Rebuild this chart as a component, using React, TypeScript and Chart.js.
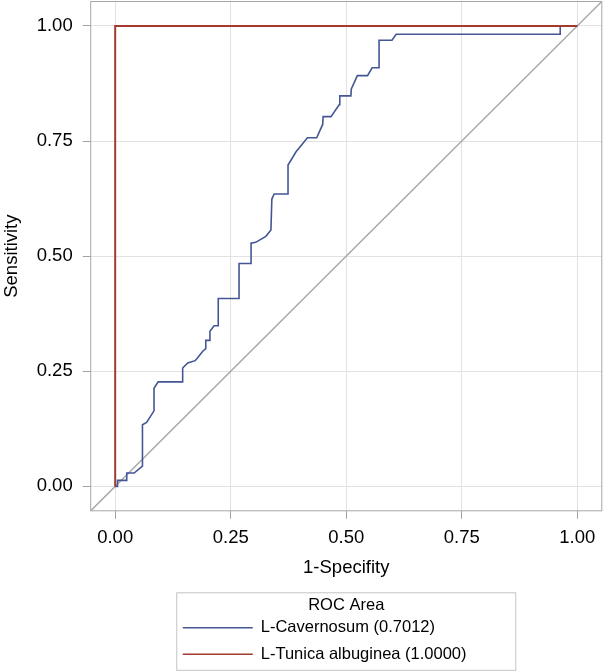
import React, { useEffect, useRef } from "react";
import { Chart, registerables } from "chart.js";

Chart.register(...registerables);

// ---- data ----
const cavernosumFpr = [
  0, 0.005, 0.005, 0.025, 0.025, 0.041, 0.059, 0.059, 0.068, 0.084, 0.084, 0.093,
  0.146, 0.146, 0.157, 0.173, 0.178, 0.189, 0.196, 0.196, 0.205, 0.205, 0.214,
  0.223, 0.223, 0.268, 0.268, 0.294, 0.294, 0.304, 0.326, 0.337, 0.339, 0.344,
  0.374, 0.374, 0.391, 0.416, 0.436, 0.449, 0.45, 0.467, 0.485, 0.486, 0.51,
  0.511, 0.524, 0.546, 0.556, 0.571, 0.571, 0.599, 0.608, 0.963, 0.963, 1,
];
const cavernosumTpr = [
  0, 0.0, 0.013, 0.013, 0.029, 0.029, 0.044, 0.134, 0.139, 0.164, 0.213, 0.227,
  0.227, 0.257, 0.268, 0.273, 0.279, 0.293, 0.299, 0.317, 0.317, 0.337, 0.349,
  0.349, 0.408, 0.408, 0.484, 0.484, 0.528, 0.53, 0.543, 0.557, 0.624, 0.635,
  0.635, 0.698, 0.726, 0.757, 0.757, 0.786, 0.803, 0.803, 0.829, 0.848, 0.848,
  0.863, 0.892, 0.892, 0.909, 0.909, 0.969, 0.969, 0.982, 0.982, 1, 1,
];
const tunicaFpr = [0, 0, 1];
const tunicaTpr = [0, 1, 1];
const referenceLine = [-0.053, 1.053];
const tickValues = [0, 0.25, 0.5, 0.75, 1];
const seriesLabels = ["L-Cavernosum (0.7012)", "L-Tunica albuginea (1.0000)"];
const legendTitle = "ROC Area";
const xTitle = "1-Specifity";
const yTitle = "Sensitivity";

const BLUE = "#445694";
const RED = "#A23A2E";
const FONT = '"Liberation Sans", Arial, Helvetica, sans-serif';

const framePlugin = {
  id: "frame",
  afterDraw(chart: any) {
    const { ctx, chartArea: a } = chart;
    ctx.save();
    ctx.strokeStyle = "#a3a7ac";
    ctx.lineWidth = 1;
    ctx.strokeRect(a.left, a.top, a.right - a.left, a.bottom - a.top);
    ctx.restore();
  },
};

const boxedLegendPlugin = {
  id: "boxedLegend",
  afterDraw(chart: any) {
    const { ctx, chartArea: a } = chart;
    const xScale = chart.scales.x;
    const cx = (a.left + a.right) / 2;
    const boxW = 339;
    const boxH = 77.5;
    const left = cx - boxW / 2;
    const top = xScale.bottom + 7;
    ctx.save();
    ctx.strokeStyle = "#c4c4c4";
    ctx.lineWidth = 1;
    ctx.strokeRect(left, top, boxW, boxH);
    ctx.font = `16.5px ${FONT}`;
    ctx.fillStyle = "#000";
    ctx.textBaseline = "middle";
    ctx.textAlign = "center";
    ctx.fillText(legendTitle, cx, top + 12.5);
    ctx.textAlign = "left";
    seriesLabels.forEach((label, i) => {
      const ds = chart.data.datasets.find((d: any) => d.label === label);
      if (!ds) return;
      const y = top + 35 + i * 26.5;
      ctx.strokeStyle = ds.borderColor;
      ctx.lineWidth = 1.5;
      ctx.beginPath();
      ctx.moveTo(left + 6, y);
      ctx.lineTo(left + 76, y);
      ctx.stroke();
      ctx.fillText(label, left + 84, y);
    });
    ctx.restore();
  },
};

function toPoints(xs: number[], ys: number[]) {
  return xs.map((x, i) => ({ x, y: ys[i] }));
}

export default function App() {
  const ref = useRef<HTMLCanvasElement>(null);

  useEffect(() => {
    if (!ref.current) return;
    const tickStyle = { size: 18.5, family: FONT };
    const chart = new Chart(ref.current, {
      type: "scatter",
      data: {
        datasets: [
          {
            label: seriesLabels[1],
            data: toPoints(tunicaFpr, tunicaTpr),
            borderColor: RED,
            borderWidth: 2,
            showLine: true,
            pointRadius: 0,
            fill: false,
          },
          {
            label: seriesLabels[0],
            data: toPoints(cavernosumFpr, cavernosumTpr),
            borderColor: BLUE,
            borderWidth: 1.6,
            showLine: true,
            pointRadius: 0,
            fill: false,
          },
          {
            label: "",
            data: toPoints(referenceLine, referenceLine),
            borderColor: "#a9a9a9",
            borderWidth: 1.5,
            showLine: true,
            pointRadius: 0,
            fill: false,
          },
        ],
      },
      options: {
        responsive: false,
        animation: false,
        devicePixelRatio: 1,
        layout: { padding: { top: 1.5, right: 6.2, left: 0, bottom: 86.2 } },
        plugins: {
          legend: { display: false },
          tooltip: { enabled: false },
        },
        scales: {
          x: {
            type: "linear",
            min: referenceLine[0],
            max: referenceLine[1],
            afterBuildTicks: (s: any) => {
              s.ticks = tickValues.map((v) => ({ value: v }));
            },
            afterFit: (s: any) => {
              s.height = 75;
              s.paddingLeft = 0;
              s.paddingRight = 0;
            },
            grid: { color: "#e2e2e2", tickColor: "#a0a4a8", tickLength: 8, lineWidth: 1 },
            border: { display: false },
            ticks: {
              font: tickStyle,
              color: "#000",
              padding: 8.5,
              maxRotation: 0,
              callback: (v: any) => Number(v).toFixed(2),
            },
            title: {
              display: true,
              text: xTitle,
              font: tickStyle,
              color: "#000",
              padding: { top: 0, bottom: 7 },
            },
          },
          y: {
            type: "linear",
            min: referenceLine[0],
            max: referenceLine[1],
            afterBuildTicks: (s: any) => {
              s.ticks = tickValues.map((v) => ({ value: v }));
            },
            afterFit: (s: any) => {
              s.width = 90.7;
              s.paddingTop = 0;
              s.paddingBottom = 0;
            },
            grid: { color: "#e2e2e2", tickColor: "#a0a4a8", tickLength: 8, lineWidth: 1 },
            border: { display: false },
            ticks: {
              font: tickStyle,
              color: "#000",
              padding: 10,
              callback: (v: any) => Number(v).toFixed(2),
            },
            title: {
              display: true,
              text: yTitle,
              font: tickStyle,
              color: "#000",
              padding: { top: 0.5, bottom: 0 },
            },
          },
        },
      },
      plugins: [framePlugin, boxedLegendPlugin],
    } as any);
    return () => chart.destroy();
  }, []);

  return (
    <div style={{ position: "fixed", left: 0, top: 0, width: 608, height: 672, background: "#fff" }}>
      <canvas ref={ref} width={608} height={672} style={{ display: "block" }} />
    </div>
  );
}
